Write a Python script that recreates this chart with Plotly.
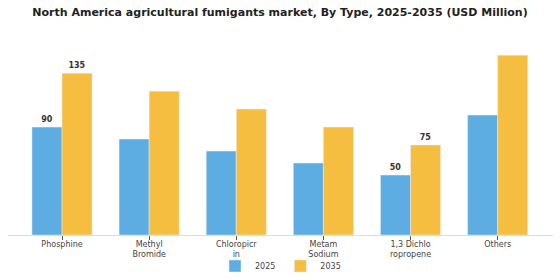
import plotly.graph_objects as go

categories = ["Phosphine", "Methyl<br>Bromide", "Chloropicr<br>in", "Metam<br>Sodium", "1,3 Dichlo<br>ropropene", "Others"]
values_2025 = [90, 80, 70, 60, 50, 100]
values_2035 = [135, 120, 105, 90, 75, 150]
labels_2025 = ["90", "", "", "", "50", ""]
labels_2035 = ["135", "", "", "", "75", ""]

blue = "#5DADE2"
yellow = "#F5BE41"

fig = go.Figure()
fig.add_trace(go.Bar(x=categories, y=values_2025, name="2025", marker_color=blue,
                     text=labels_2025, textposition="outside", cliponaxis=False,
                     textfont=dict(family="DejaVu Sans", size=8, color="#333333", weight="bold")))
fig.add_trace(go.Bar(x=categories, y=values_2035, name="2035", marker_color=yellow,
                     text=labels_2035, textposition="outside", cliponaxis=False,
                     textfont=dict(family="DejaVu Sans", size=8, color="#333333", weight="bold")))

fig.update_layout(
    width=560, height=280,
    margin=dict(l=8, r=7, t=30, b=45, autoexpand=False),
    paper_bgcolor="white", plot_bgcolor="white",
    barmode="group", bargap=0.31, bargroupgap=0,
    title=dict(text="<b>North America agricultural fumigants market, By Type, 2025-2035 (USD Million)</b>",
               x=0.5, xanchor="center", y=0.957, yanchor="middle",
               font=dict(family="DejaVu Sans", size=11, color="#222222")),
    font=dict(family="DejaVu Sans", size=8, color="#444444"),
    xaxis=dict(range=[-0.62, 5.635], showline=True, linecolor="#dddddd", linewidth=1,
               ticks="outside", ticklen=4, tickcolor="#555555", tickwidth=1, automargin=False,
               ticklabelstandoff=-3,
               tickfont=dict(size=8, color="#444444"), showgrid=False),
    yaxis=dict(range=[0, 171], visible=False, showgrid=False, automargin=False),
    legend=dict(orientation="h", x=0.5, xanchor="center", y=0.05, yanchor="middle",
                yref="container", bgcolor="rgba(0,0,0,0)",
                font=dict(size=8, color="#444444"), itemwidth=30),
    showlegend=True,
)

fig.write_html("out.html")
